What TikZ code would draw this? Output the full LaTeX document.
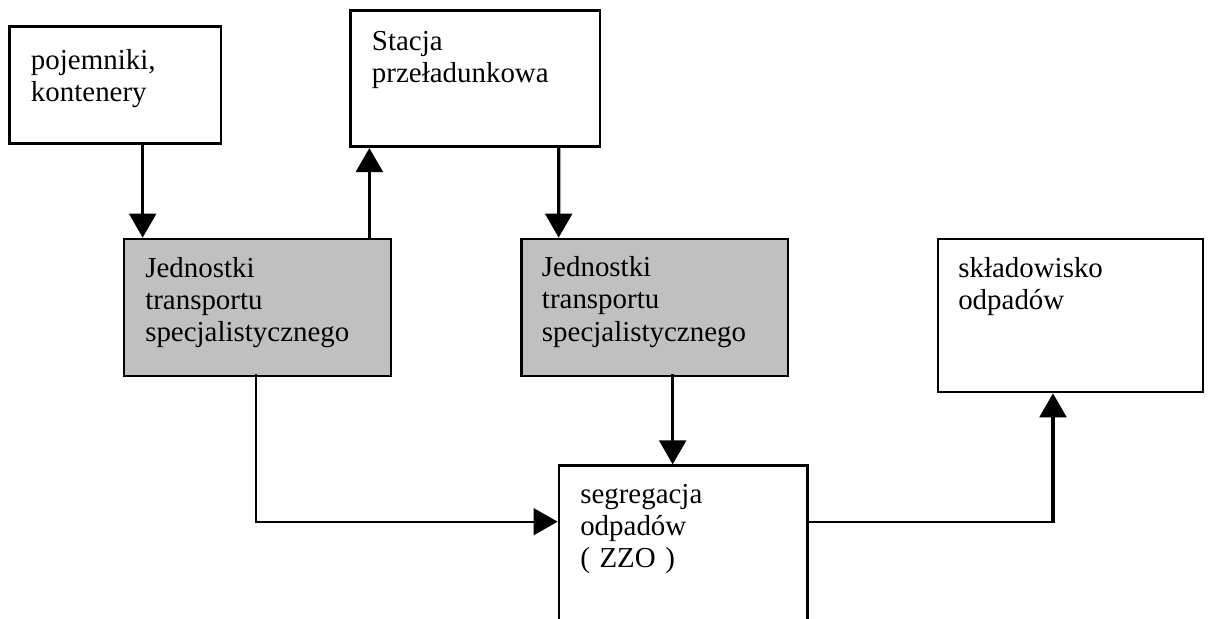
\documentclass[tikz,border=0pt]{standalone}
\usepackage{fontspec}
\setmainfont{Liberation Serif}
\usetikzlibrary{arrows.meta,calc,fit}
\definecolor{boxgray}{RGB}{192,192,192}
\begin{document}
\begin{tikzpicture}[x=0.75pt,y=-0.75pt,
  box/.style={draw=black,line width=2pt,inner sep=0pt,fill=white},
  graybox/.style={box,fill=boxgray},
  lbl/.style={anchor=base west,inner sep=0pt,align=left,text width=240pt,
    font=\fontsize{21.7}{24.2}\selectfont},
  arr/.style={line width=2.5pt,-{Triangle[length=18pt,width=20pt]}},
  thinarr/.style={line width=1.6pt,-{Triangle[length=18pt,width=20pt]}},
  thinline/.style={line width=1.6pt}]
\useasboundingbox (0,0) rectangle (1209,618);
\clip (0,0) rectangle (1209,618);

% boxes
\node[box,fit={(9.5,26.7) (221,143.3)}] (pojemniki) {};
\node[box,fit={(350.7,10.7) (600,146.7)}] (stacja) {};
\node[graybox,fit={(124,239) (391,376)}] (jt1) {};
\node[graybox,fit={(521.5,239) (788,376)}] (jt2) {};
\node[box,fit={(938,239) (1203,392)}] (skladowisko) {};
\node[box,fit={(559,465.7) (807.7,660)}] (segregacja) {};

% labels
\node[lbl] (tpoj) at (30.7,69.3) {pojemniki,\\kontenery};
\node[lbl] (tsta) at (371.7,50.7) {Stacja\\przeładunkowa};
\node[lbl] (tjt1) at (145,277) {Jednostki\\transportu\\specjalistycznego};
\node[lbl] (tjt2) at (541.7,276.7) {Jednostki\\transportu\\specjalistycznego};
\node[lbl] (tskl) at (958,277.3) {składowisko\\odpadów};
\node[lbl] (tseg) at (580,503.3) {segregacja\\odpadów\\( ZZO )};

% connectors
\draw[arr] ($(pojemniki.south west)+(134.5,0)$) -- ($(jt1.north west)+(20,0)$);
\draw[arr] ($(jt1.north west)+(246.7,0)$) -- ($(stacja.south west)+(20,0)$);
\draw[arr] ($(stacja.south west)+(209.3,0)$) -- ($(jt2.north west)+(38.5,0)$);
\draw[arr] ($(jt2.south west)+(152.5,-3)$) -- ($(segregacja.north west)+(115,0)$);
\draw[thinarr] ($(jt1.south west)+(133,-3)$) |- ($(segregacja.north west)+(0,57.3)$);
\coordinate (sklin) at ($(skladowisko.south west)+(116.3,0)$);
\coordinate (segout) at ($(segregacja.north east)+(0,57.3)$);
\coordinate (bend) at (sklin |- segout);
\draw[thinline] (segout) -- ($(bend)+(1.7,0)$);
\draw[arr] ($(bend)+(0,0.8)$) -- (sklin);
\end{tikzpicture}
\end{document}
